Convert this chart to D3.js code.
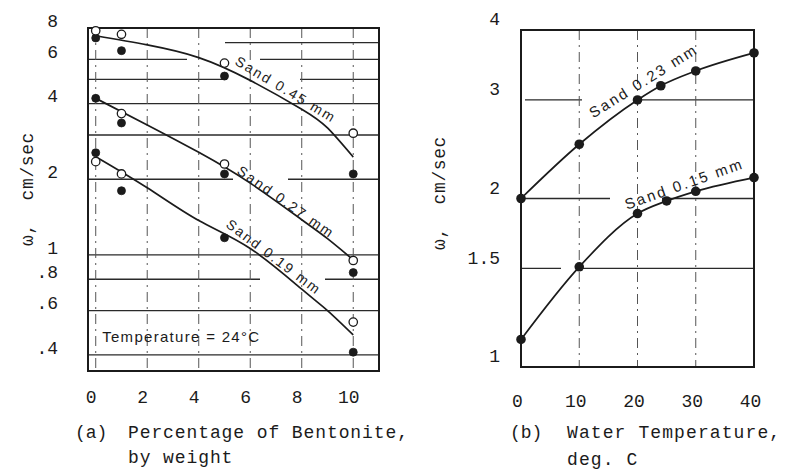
<!DOCTYPE html>
<html>
<head>
<meta charset="utf-8">
<script src="https://cdn.jsdelivr.net/npm/d3@7"></script>
<style>
  body { margin: 0; background: #fff; }
  svg { display: block; }
  .mono { font-family: "Liberation Mono", "DejaVu Sans Mono", monospace; fill: #1b1b1b; white-space: pre; }
  .sans { font-family: "Liberation Sans", Arial, sans-serif; fill: #1b1b1b; white-space: pre; }
</style>
</head>
<body>
<svg id="chart" width="789" height="474"></svg>
<script>
// ---------- (a) fall velocity vs. bentonite content, 24 °C ----------
const bentonitePct   = [0, 1, 5, 10];
const sand045Open    = [7.8, 7.55, 5.8, 3.05];
const sand045Filled  = [7.3, 6.5, 5.15, 2.1];
const sand027Open    = [null, 3.65, 2.3, 0.95];
const sand027Filled  = [4.2, 3.35, 2.1, 0.85];
const sand019Open    = [2.35, 2.1, null, 0.54];
const sand019Filled  = [2.55, 1.8, 1.17, 0.41];

// fitted curves
const fitPct     = [0, 2, 4, 6, 8, 9, 10];
const sand045Fit = [7.45, 6.85, 6.1, 4.95, 3.8, 3.2, 2.45];
const sand027Fit = [4.2, 3.29, 2.56, 1.93, 1.38, 1.16, 0.955];
const sand019Fit = [2.46, 1.85, 1.37, 1.06, 0.73, 0.60, 0.48];

const pctTicks        = [0, 2, 4, 6, 8, 10];
const leftYTicks      = [8, 6, 4, 2, 1, 0.8, 0.6, 0.4];
const leftYTickLabels = ["8", "6", "4", "2", "1", ".8", ".6", ".4"];
const leftGridValues  = [7, 6, 5, 4, 3, 2, 1, 0.8, 0.6, 0.4];

// ---------- (b) fall velocity vs. water temperature ----------
const temp023 = [0, 10, 20, 24, 30, 40];
const sand023 = [2.0, 2.5, 3.0, 3.18, 3.38, 3.64];
const temp015 = [0, 10, 20, 25, 30, 40];
const sand015 = [1.12, 1.51, 1.88, 1.98, 2.06, 2.18];

const tempTicks        = [0, 10, 20, 30, 40];
const rightYTicks      = [4, 3, 2, 1.5, 1];
const rightYTickLabels = ["4", "3", "2", "1.5", "1"];
const rightGridValues  = [3, 2, 1.5];

const svg = d3.select("#chart");
const ink = "#1b1b1b";

// ---------- scales ----------
const xA = d3.scaleLinear().domain([-0.3, 11]).range([88, 379]);
const yA = d3.scaleLog().domain([0.345, 8]).range([371, 28]);
const xB = d3.scaleLinear().domain([0, 40]).range([521, 754]);
const yB = d3.scaleLog().domain([1, 4]).range([367, 30]);

// ---------- panel (a) ----------
const gA = svg.append("g");

// broken horizontal rules
const leftGridDash = { 7: "0,137,300", 6: "99,73,300", 5: "139,73,300", 2: "145,55,300", 0.8: "172,65,300" };
gA.selectAll("line.hgrid").data(leftGridValues).join("line")
  .attr("class", "hgrid")
  .attr("x1", xA.range()[0]).attr("x2", xA.range()[1])
  .attr("y1", d => yA(d)).attr("y2", d => yA(d))
  .attr("stroke", "#2a2a2a").attr("stroke-width", 1.3)
  .attr("stroke-dasharray", d => leftGridDash[d] || null);

// dash-dot verticals
gA.selectAll("line.vgrid").data(pctTicks).join("line")
  .attr("class", "vgrid")
  .attr("x1", d => xA(d)).attr("x2", d => xA(d))
  .attr("y1", yA.range()[1]).attr("y2", yA.range()[0])
  .attr("stroke", "#555").attr("stroke-width", 1)
  .attr("stroke-dasharray", "10,5,2,5");

// frame
gA.append("rect")
  .attr("x", xA.range()[0]).attr("y", yA.range()[1])
  .attr("width", xA.range()[1] - xA.range()[0])
  .attr("height", yA.range()[0] - yA.range()[1])
  .attr("fill", "none").attr("stroke", ink).attr("stroke-width", 2);

const lineA = d3.line().x(d => xA(d[0])).y(d => yA(d[1])).curve(d3.curveNatural);
[sand045Fit, sand027Fit, sand019Fit].forEach(fit => {
  gA.append("path")
    .attr("d", lineA(fitPct.map((p, i) => [p, fit[i]])))
    .attr("fill", "none").attr("stroke", ink).attr("stroke-width", 1.7);
});

function markersA(values, open) {
  const pts = bentonitePct.map((p, i) => [p, values[i]]).filter(d => d[1] != null);
  gA.append("g").selectAll("circle").data(pts).join("circle")
    .attr("cx", d => xA(d[0])).attr("cy", d => yA(d[1]))
    .attr("r", open ? 4.2 : 4)
    .attr("fill", open ? "#fff" : ink)
    .attr("stroke", ink).attr("stroke-width", open ? 1.3 : 0.8);
}
markersA(sand045Filled, false);
markersA(sand027Filled, false);
markersA(sand019Filled, false);
markersA(sand045Open, true);
markersA(sand027Open, true);
markersA(sand019Open, true);

// curve labels, anchored in data space
function curveLabel(g, text, x, y, angle, size, spacing) {
  g.append("text").attr("class", "sans")
    .attr("transform", `translate(${x},${y}) rotate(${angle})`)
    .attr("font-size", size).attr("letter-spacing", spacing)
    .text(text);
}
curveLabel(gA, "Sand 0.45 mm", xA(5.37), yA(5.75), 31, 14, 2);
curveLabel(gA, "Sand 0.27 mm", xA(5.45), yA(2.12), 35, 14, 2);
curveLabel(gA, "Sand 0.19 mm", xA(5.02), yA(1.30), 37, 14, 2);

gA.append("text").attr("class", "sans")
  .attr("x", xA(0.25)).attr("y", yA(0.45))
  .attr("font-size", 15).attr("letter-spacing", 1.3)
  .text("Temperature = 24°C");

// axes (a)
const axYA = gA.append("g").attr("transform", "translate(58,0)")
  .call(d3.axisLeft(yA).tickValues(leftYTicks).tickSize(0).tickPadding(0)
    .tickFormat((d, i) => leftYTickLabels[i]));
axYA.select(".domain").remove();
axYA.selectAll("text").attr("class", "mono").attr("font-size", 18).attr("dy", "-0.1em");

const axXA = gA.append("g").attr("transform", "translate(-5,390)")
  .call(d3.axisBottom(xA).tickValues(pctTicks).tickSize(0).tickPadding(0));
axXA.select(".domain").remove();
axXA.selectAll("text").attr("class", "mono").attr("font-size", 18).attr("dy", "0.71em");

gA.append("text").attr("class", "mono")
  .attr("transform", "translate(33,189) rotate(-90)")
  .attr("text-anchor", "middle").attr("font-size", 18).attr("letter-spacing", 0.6)
  .text("ω,  cm/sec");

gA.append("text").attr("class", "mono").attr("x", 75).attr("y", 438).attr("font-size", 18).text("(a)");
gA.append("text").attr("class", "mono").attr("x", 128).attr("y", 438).attr("font-size", 18)
  .attr("letter-spacing", 0.9).text("Percentage of Bentonite,");
gA.append("text").attr("class", "mono").attr("x", 128).attr("y", 463).attr("font-size", 18)
  .attr("letter-spacing", 0.9).text("by weight");

// ---------- panel (b) ----------
const gB = svg.append("g");

const rightGridDash = { 3: "0,4,57,57,200", 2: "89,52,200", 1.5: "40,18,300" };
gB.selectAll("line.hgrid").data(rightGridValues).join("line")
  .attr("class", "hgrid")
  .attr("x1", xB.range()[0]).attr("x2", xB.range()[1])
  .attr("y1", d => yB(d)).attr("y2", d => yB(d))
  .attr("stroke", "#2a2a2a").attr("stroke-width", 1.3)
  .attr("stroke-dasharray", d => rightGridDash[d] || null);

gB.selectAll("line.vgrid").data(tempTicks.slice(1, -1)).join("line")
  .attr("class", "vgrid")
  .attr("x1", d => xB(d)).attr("x2", d => xB(d))
  .attr("y1", yB.range()[1]).attr("y2", yB.range()[0])
  .attr("stroke", "#555").attr("stroke-width", 1)
  .attr("stroke-dasharray", "10,5,2,5");

gB.append("rect")
  .attr("x", xB.range()[0]).attr("y", yB.range()[1])
  .attr("width", xB.range()[1] - xB.range()[0])
  .attr("height", yB.range()[0] - yB.range()[1])
  .attr("fill", "none").attr("stroke", ink).attr("stroke-width", 2);

const lineB = d3.line().x(d => xB(d[0])).y(d => yB(d[1])).curve(d3.curveMonotoneX);
[[temp023, sand023], [temp015, sand015]].forEach(([ts, vs]) => {
  const pts = ts.map((t, i) => [t, vs[i]]);
  gB.append("path").attr("d", lineB(pts))
    .attr("fill", "none").attr("stroke", ink).attr("stroke-width", 1.7);
  gB.append("g").selectAll("circle").data(pts).join("circle")
    .attr("cx", d => xB(d[0])).attr("cy", d => yB(d[1]))
    .attr("r", 4.8).attr("fill", ink);
});

curveLabel(gB, "Sand 0.23 mm", xB(12.4), yB(2.78), -32, 15, 2.3);
curveLabel(gB, "Sand 0.15 mm", xB(18.2), yB(1.91), -19.5, 15, 2.3);

const axYB = gB.append("g").attr("transform", "translate(500,0)")
  .call(d3.axisLeft(yB).tickValues(rightYTicks).tickSize(0).tickPadding(0)
    .tickFormat((d, i) => rightYTickLabels[i]));
axYB.select(".domain").remove();
axYB.selectAll("text").attr("class", "mono").attr("font-size", 18).attr("dy", "-0.28em");

const axXB = gB.append("g").attr("transform", "translate(-4,394)")
  .call(d3.axisBottom(xB).tickValues(tempTicks).tickSize(0).tickPadding(0));
axXB.select(".domain").remove();
axXB.selectAll("text").attr("class", "mono").attr("font-size", 18).attr("dy", "0.71em");

gB.append("text").attr("class", "mono")
  .attr("transform", "translate(445,193) rotate(-90)")
  .attr("text-anchor", "middle").attr("font-size", 18).attr("letter-spacing", 0.6)
  .text("ω,  cm/sec");

gB.append("text").attr("class", "mono").attr("x", 510).attr("y", 438).attr("font-size", 18).text("(b)");
gB.append("text").attr("class", "mono").attr("x", 567).attr("y", 438).attr("font-size", 18)
  .attr("letter-spacing", 1.1).text("Water Temperature,");
gB.append("text").attr("class", "mono").attr("x", 567).attr("y", 465).attr("font-size", 18)
  .attr("letter-spacing", 1.1).text("deg. C");
</script>
</body>
</html>
